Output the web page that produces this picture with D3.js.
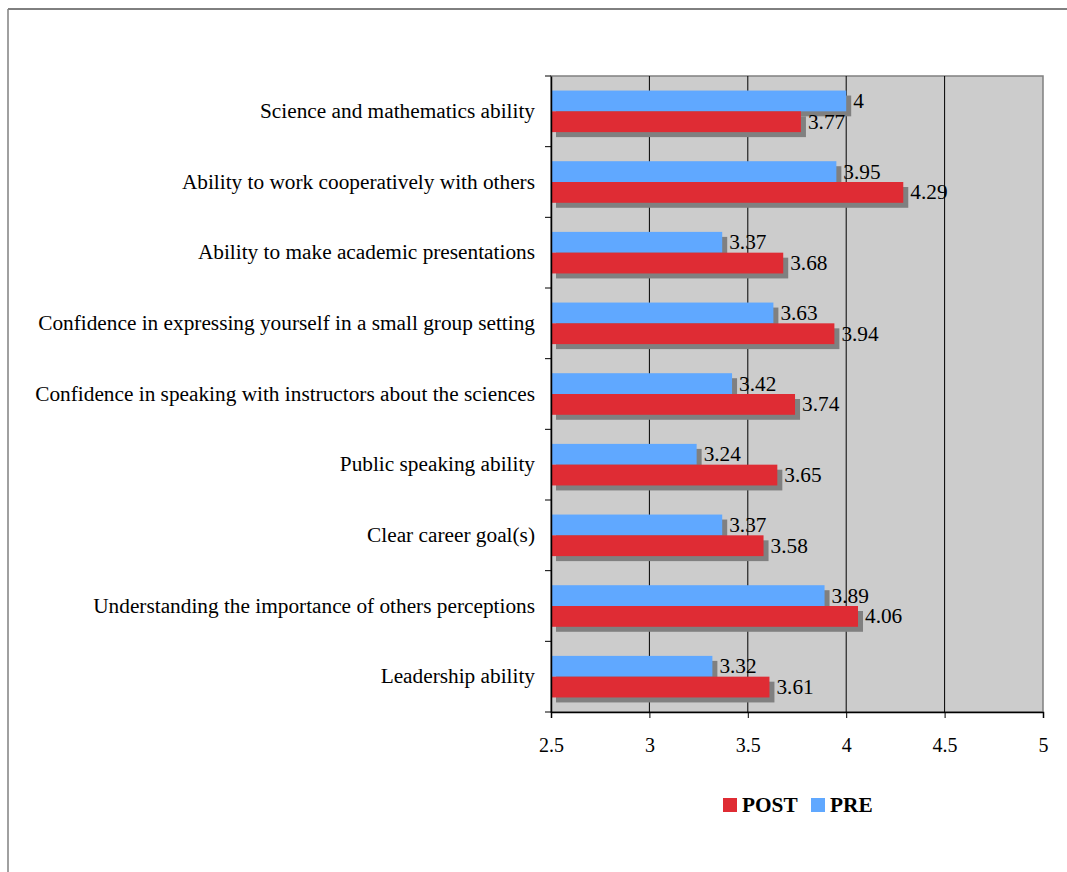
<!DOCTYPE html>
<html>
<head>
<meta charset="utf-8">
<script src="https://cdn.jsdelivr.net/npm/d3@7"></script>
<style>
  body { margin: 0; background: #fff; }
  svg { display: block; }
  svg text { font-family: "Liberation Serif", "Times New Roman", serif !important; }
</style>
</head>
<body>
<svg id="chart" width="1067" height="872"></svg>
<script>
// data
const categories = [
    "Science and mathematics ability",
    "Ability to work cooperatively with others",
    "Ability to make academic presentations",
    "Confidence in expressing yourself in a small group setting",
    "Confidence in speaking with instructors about the sciences",
    "Public speaking ability",
    "Clear career goal(s)",
    "Understanding the importance of others perceptions",
    "Leadership ability"
];
const preValues = [4, 3.95, 3.37, 3.63, 3.42, 3.24, 3.37, 3.89, 3.32];
const postValues = [3.77, 4.29, 3.68, 3.94, 3.74, 3.65, 3.58, 4.06, 3.61];
const seriesNames = ["PRE", "POST"];
const xTickValues = [2.5, 3, 3.5, 4, 4.5, 5];

const colors = {PRE: "#60a8ff", POST: "#df2c34"};
const fontSize = "21.3px";

const svg = d3.select("#chart");
const plot = {left: 551, right: 1043, top: 76, bottom: 712};

// outer frame
svg.append("line").attr("x1", 8).attr("x2", 1067).attr("y1", 9).attr("y2", 9)
    .attr("stroke", "#000").attr("stroke-width", 1);
svg.append("line").attr("x1", 8).attr("x2", 8).attr("y1", 9).attr("y2", 872)
    .attr("stroke", "#808080").attr("stroke-width", 1.5);

const x = d3.scaleLinear().domain([2.5, 5]).range([plot.left, plot.right]);
const y = d3.scaleBand().domain(categories).range([plot.top, plot.bottom]);
const ySub = d3.scaleBand().domain(seriesNames).range([0, y.bandwidth()])
    .paddingInner(0).paddingOuter(0.7);

// plot background
svg.append("rect")
    .attr("x", plot.left).attr("y", plot.top)
    .attr("width", plot.right - plot.left).attr("height", plot.bottom - plot.top)
    .attr("fill", "#cccccc").attr("stroke", "#808080").attr("stroke-width", 1.5);

// grid lines
svg.append("g").selectAll("line")
    .data(xTickValues.slice(1, -1))
    .join("line")
    .attr("x1", d => x(d)).attr("x2", d => x(d))
    .attr("y1", plot.top).attr("y2", plot.bottom)
    .attr("stroke", "#000").attr("stroke-width", 1);

const rows = categories.map((c, i) => ({cat: c, PRE: preValues[i], POST: postValues[i]}));

const groups = svg.append("g").selectAll("g")
    .data(rows)
    .join("g")
    .attr("transform", d => `translate(0,${y(d.cat)})`);

const shadow = 5;
// shadows first
groups.selectAll("rect.shadow")
    .data(d => seriesNames.map(s => ({s, v: d[s]})))
    .join("rect")
    .attr("class", "shadow")
    .attr("x", x(2.5) + shadow)
    .attr("y", d => ySub(d.s) + shadow)
    .attr("width", d => x(d.v) - x(2.5))
    .attr("height", ySub.bandwidth())
    .attr("fill", "#808080");

groups.selectAll("rect.bar")
    .data(d => seriesNames.map(s => ({s, v: d[s]})))
    .join("rect")
    .attr("class", "bar")
    .attr("x", x(2.5))
    .attr("y", d => ySub(d.s))
    .attr("width", d => x(d.v) - x(2.5))
    .attr("height", ySub.bandwidth())
    .attr("fill", d => colors[d.s]);

groups.selectAll("text.val")
    .data(d => seriesNames.map(s => ({s, v: d[s]})))
    .join("text")
    .attr("class", "val")
    .attr("x", d => x(d.v) + 7)
    .attr("y", d => ySub(d.s) + ySub.bandwidth() / 2)
    .attr("dy", "0.33em")
    .attr("font-size", fontSize)
    .attr("fill", "#000")
    .text(d => d.v);

// axes
const xAxis = d3.axisBottom(x).tickValues(xTickValues).tickSize(6).tickPadding(20)
    .tickFormat(d => d);
const gx = svg.append("g").attr("transform", `translate(0,${plot.bottom})`).call(xAxis);
gx.select(".domain").attr("stroke", "#000").attr("stroke-width", 1.5);
gx.selectAll(".tick line").attr("stroke", "#000");
gx.selectAll("text").attr("font-size", "20px").attr("fill", "#000");

const gy = svg.append("g").attr("transform", `translate(${plot.left},0)`)
    .call(d3.axisLeft(y).tickSize(0).tickPadding(16));
gy.select(".domain").attr("stroke", "#000").attr("stroke-width", 1.5);
gy.selectAll("text").attr("font-size", fontSize).attr("fill", "#000");

// category boundary ticks
svg.append("g").selectAll("line")
    .data(categories.map(c => y(c)).concat([plot.bottom]))
    .join("line")
    .attr("x1", plot.left - 6).attr("x2", plot.left)
    .attr("y1", d => d).attr("y2", d => d)
    .attr("stroke", "#000");

// legend
const legend = svg.append("g").attr("transform", "translate(723,798)");
const legendItems = [{s: "POST", x: 0}, {s: "PRE", x: 88}];
const li = legend.selectAll("g").data(legendItems).join("g")
    .attr("transform", d => `translate(${d.x},0)`);
li.append("rect").attr("width", 14).attr("height", 14).attr("fill", d => colors[d.s]);
li.append("text").attr("x", 19).attr("y", 7).attr("dy", "0.35em")
    .attr("font-size", fontSize).attr("font-weight", "bold").text(d => d.s);
</script>
</body>
</html>
